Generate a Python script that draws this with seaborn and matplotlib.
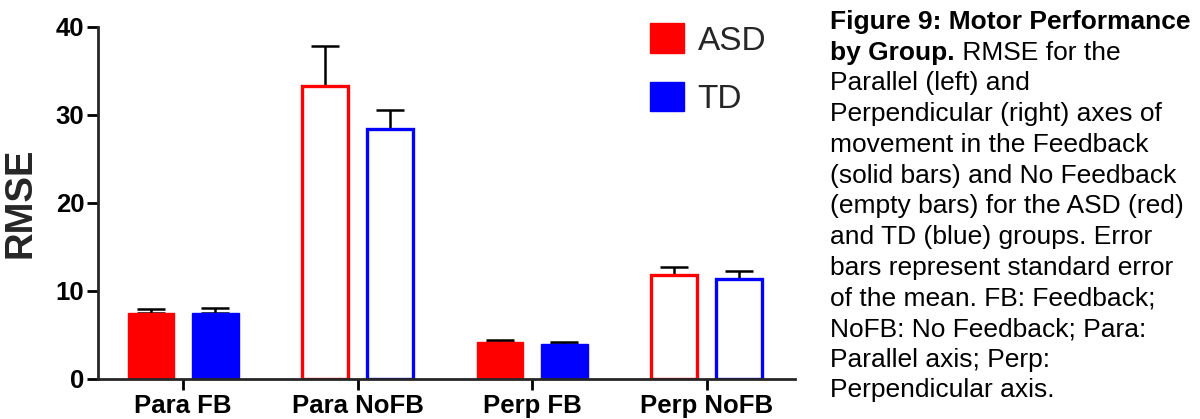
"""
Figure 9 - Motor Performance by Group (RMSE bar chart)
"""

import pandas as pd
import numpy as np
import matplotlib
matplotlib.use('Agg')
import matplotlib.pyplot as plt
import seaborn as sns
from matplotlib.patches import Patch

# 데이터
conditions = ['Para FB', 'Para NoFB', 'Perp FB', 'Perp NoFB']
groups = ['ASD', 'TD']
asd_mean = [7.5, 33.3, 4.25, 11.8]
asd_sem = [0.45, 4.5, 0.2, 0.95]
td_mean = [7.5, 28.4, 4.0, 11.4]
td_sem = [0.6, 2.2, 0.15, 0.9]
empty_conditions = ['Para NoFB', 'Perp NoFB']
group_colors = {'ASD': '#FF0000', 'TD': '#0000FF'}

caption_lines = [
    [("Figure 9: Motor Performance", 'bold')],
    [("by Group.", 'bold'), (" RMSE for the", 'normal')],
    [("Parallel (left) and", 'normal')],
    [("Perpendicular (right) axes of", 'normal')],
    [("movement in the Feedback", 'normal')],
    [("(solid bars) and No Feedback", 'normal')],
    [("(empty bars) for the ASD (red)", 'normal')],
    [("and TD (blue) groups. Error", 'normal')],
    [("bars represent standard error", 'normal')],
    [("of the mean. FB: Feedback;", 'normal')],
    [("NoFB: No Feedback; Para:", 'normal')],
    [("Parallel axis; Perp:", 'normal')],
    [("Perpendicular axis.", 'normal')],
]

df = pd.DataFrame({
    'condition': conditions * 2,
    'group': ['ASD'] * 4 + ['TD'] * 4,
    'rmse': asd_mean + td_mean,
    'sem': asd_sem + td_sem,
})

sns.set_style('ticks')
plt.rcParams['font.family'] = ['Liberation Sans', 'DejaVu Sans']

fig = plt.figure(figsize=(12, 4.19), dpi=100)
ax = fig.add_axes([0.0817, 0.0955, 0.5808, 0.8401])

sns.barplot(data=df, x='condition', y='rmse', hue='group', order=conditions,
            hue_order=groups, palette=group_colors, width=0.744, gap=0.29,
            errorbar=None, saturation=1, legend=False, ax=ax)

# 막대 스타일 + 오차 막대 (위쪽만)
for cont, g in zip(ax.containers, groups):
    sub = df[df['group'] == g].set_index('condition').loc[conditions]
    for bar, cond in zip(cont, conditions):
        color = group_colors[g]
        if cond in empty_conditions:
            bar.set_facecolor('white')
            bar.set_edgecolor(color)
            bar.set_linewidth(2.4)
        else:
            bar.set_facecolor(color)
            bar.set_edgecolor(color)
            bar.set_linewidth(1.0)
        xc = bar.get_x() + bar.get_width() / 2
        h = bar.get_height()
        ax.errorbar(xc, h, yerr=[[0], [sub.loc[cond, 'sem']]], fmt='none',
                    ecolor='black', elinewidth=1.8, capsize=10, capthick=1.8,
                    zorder=1)
    for bar in cont:
        bar.set_zorder(2)

ax.set_xlim(-0.487, 3.507)
ax.set_ylim(0, 40)
ax.set_yticks([0, 10, 20, 30, 40])
ax.set_xlabel('')
ax.set_ylabel('RMSE', fontsize=27.5, fontweight='bold', labelpad=12)
sns.despine(ax=ax)
for side in ['left', 'bottom']:
    ax.spines[side].set_linewidth(2)
ax.tick_params(axis='both', width=2, length=8, labelsize=18.5, colors='black')
ax.tick_params(axis='y', pad=2)
ax.tick_params(axis='x', pad=3)
for lbl in ax.get_xticklabels() + ax.get_yticklabels():
    lbl.set_fontweight('bold')

handles = [Patch(facecolor=group_colors[g], edgecolor=group_colors[g], label=g) for g in groups]
fig.legend(handles=handles, loc='upper left', bbox_to_anchor=(637 / 1200, 1 - 10 / 419),
           frameon=False, fontsize=24, handlelength=1.0, handleheight=1.0,
           handletextpad=0.42, labelspacing=0.75, borderaxespad=0)

# 캡션
fig.canvas.draw()
renderer = fig.canvas.get_renderer()
x0 = 830
y0 = 419 - 29
line_h = 30.7
for i, segs in enumerate(caption_lines):
    x = x0
    y = y0 - i * line_h
    for txt, w in segs:
        t = fig.text(x / 1200, y / 419, txt, fontsize=19, fontweight=w,
                     ha='left', va='baseline', color='black')
        bb = t.get_window_extent(renderer=renderer)
        x = x + bb.width

fig.savefig('out.png', dpi=100)
